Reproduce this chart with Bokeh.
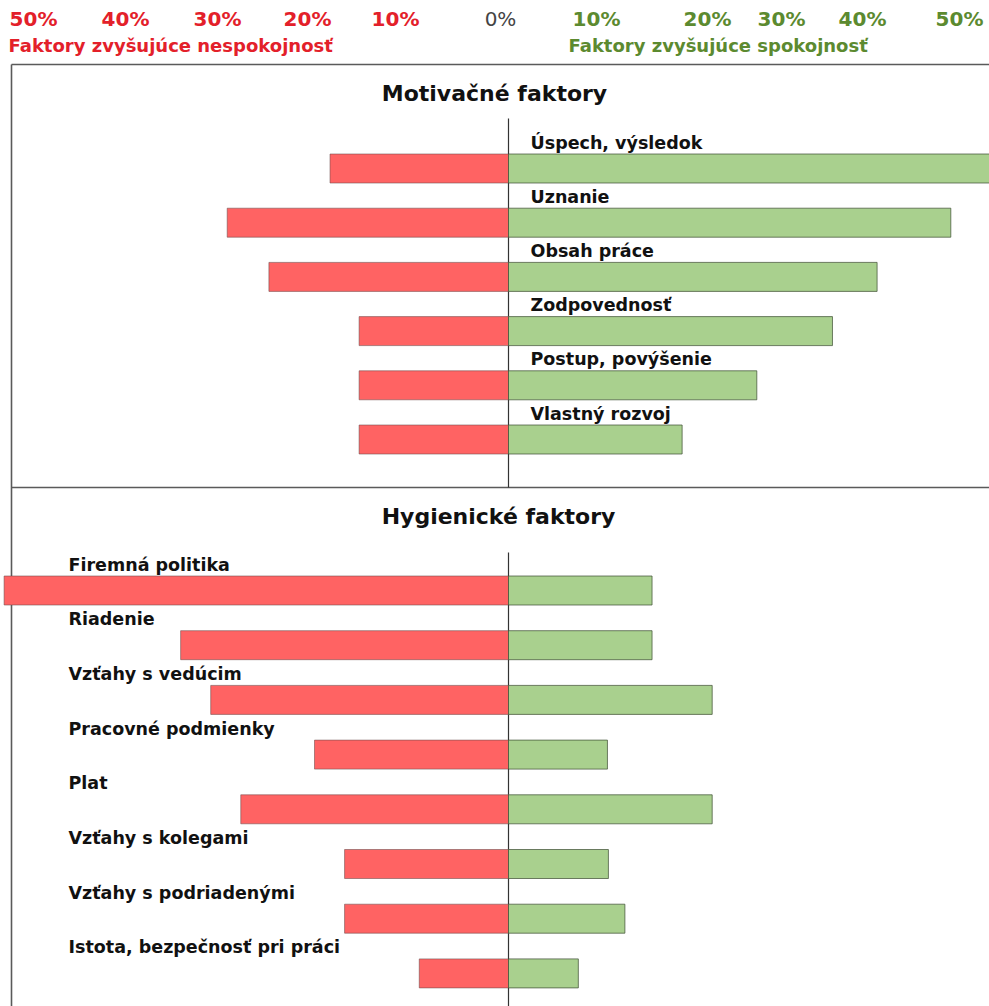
from bokeh.plotting import figure
from bokeh.models import Range1d
from bokeh.core.properties import value
from bokeh.embed import file_html
from bokeh.resources import INLINE

# --- data (percent of respondents) ---
motiv_factors = ["Úspech, výsledok", "Uznanie", "Obsah práce", "Zodpovednosť",
                 "Postup, povýšenie", "Vlastný rozvoj"]
motiv_dissat = [18.4, 29.0, 24.7, 15.4, 15.4, 15.4]
motiv_sat = [49.6, 45.6, 38.0, 33.4, 25.6, 17.9]

hyg_factors = ["Firemná politika", "Riadenie", "Vzťahy s vedúcim", "Pracovné podmienky",
               "Plat", "Vzťahy s kolegami", "Vzťahy s podriadenými",
               "Istota, bezpečnosť pri práci"]
hyg_dissat = [52.0, 33.8, 30.7, 20.0, 27.6, 16.9, 16.9, 9.2]
hyg_sat = [14.8, 14.8, 21.0, 10.2, 21.0, 10.3, 12.0, 7.2]

left_tick_labels = ["50%", "40%", "30%", "20%", "10%"]
right_tick_labels = ["10%", "20%", "30%", "40%", "50%"]
zero_label = "0%"

# --- layout ---
W, H = 989, 1006
CENTER_PX = 508          # horizontal pixel of the 0 % line
PX_PER_PCT = 9.7

def X(px):
    return (px - CENTER_PX) / PX_PER_PCT

left_tick_pos = [X(p) for p in (33, 125, 217, 307, 395)]
right_tick_pos = [X(p) for p in (596, 707, 781, 862, 959)]

RED = "#FF6363"
GREEN = "#A9D08E"
RED_TXT = "#E3202A"
GREEN_TXT = "#5C8A30"
FRAME = "#5a5a5a"
FONT = value("DejaVu Sans")

p = figure(width=W, height=H, output_backend="svg", toolbar_location=None,
           x_range=Range1d(X(0), X(W)), y_range=Range1d(H, 0),
           min_border=0, min_border_left=0, min_border_right=0,
           min_border_top=0, min_border_bottom=0)
p.axis.visible = False
p.grid.visible = False
p.outline_line_color = None
p.background_fill_color = "white"
p.border_fill_color = "white"

# frame around the chart and the divider between the two groups
p.segment(x0=[X(11), X(11), X(11)], y0=[64, 64, 487],
          x1=[X(11), X(989), X(989)], y1=[1006, 64, 487],
          line_color=FRAME, line_width=1.6)

# zero lines
p.segment(x0=[0, 0], y0=[118, 552], x1=[0, 0], y1=[487, 1006],
          line_color="#333333", line_width=1.2)

BAR_H = 29

def draw_group(names, dissat, sat, y0, step, label_px):
    ys = [y0 + i * step for i in range(len(names))]
    p.hbar(y=ys, left=[-v for v in dissat], right=0, height=BAR_H,
           fill_color=RED, line_color="#6b4b4b", line_width=0.8, line_alpha=0.7)
    p.hbar(y=ys, left=0, right=sat, height=BAR_H,
           fill_color=GREEN, line_color="#3f4f35", line_width=0.9, line_alpha=0.8)
    p.text(x=[X(label_px)] * len(names), y=[y - 26 for y in ys], text=names,
           text_font=FONT, text_font_style="bold", text_font_size="17.5px",
           text_color="#111111", text_align="left", text_baseline="middle")

draw_group(motiv_factors, motiv_dissat, motiv_sat, 168, 54.2, 530)
draw_group(hyg_factors, hyg_dissat, hyg_sat, 590, 54.7, 68)

# group titles
p.text(x=[X(494), X(498)], y=[93, 516], text=["Motivačné faktory", "Hygienické faktory"],
       text_font=FONT, text_font_style="bold", text_font_size="22px",
       text_color="#111111", text_align="center", text_baseline="middle")

# top scale labels
p.text(x=left_tick_pos, y=[18] * len(left_tick_labels), text=left_tick_labels,
       text_font=FONT, text_font_style="bold", text_font_size="20px",
       text_color=RED_TXT, text_align="center", text_baseline="middle")
p.text(x=right_tick_pos, y=[18] * len(right_tick_labels), text=right_tick_labels,
       text_font=FONT, text_font_style="bold", text_font_size="20px",
       text_color=GREEN_TXT, text_align="center", text_baseline="middle")
p.text(x=[X(500)], y=[18], text=[zero_label],
       text_font=FONT, text_font_size="20px",
       text_color="#444444", text_align="center", text_baseline="middle")

# side captions
p.text(x=[X(8)], y=[45], text=["Faktory zvyšujúce nespokojnosť"],
       text_font=FONT, text_font_style="bold", text_font_size="18px",
       text_color=RED_TXT, text_align="left", text_baseline="middle")
p.text(x=[X(568)], y=[45], text=["Faktory zvyšujúce spokojnosť"],
       text_font=FONT, text_font_style="bold", text_font_size="18px",
       text_color=GREEN_TXT, text_align="left", text_baseline="middle")

open("out.html", "w").write(file_html(p, INLINE))
